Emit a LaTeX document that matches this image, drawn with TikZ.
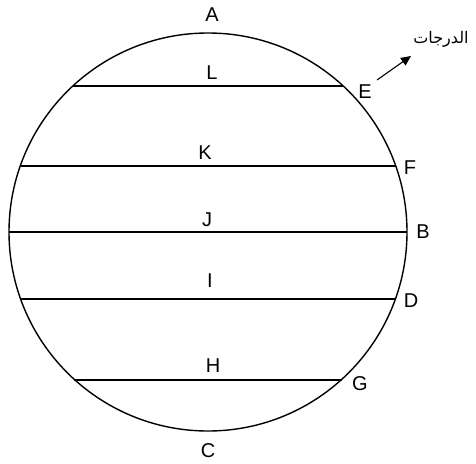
\documentclass[tikz,border=0pt]{standalone}
\usepackage{fontspec}
\setmainfont{Liberation Sans}
\newfontfamily\arabicfont[Script=Arabic]{DejaVu Sans}
\TeXXeTstate=1
\usetikzlibrary{arrows.meta}
\begin{document}
\begin{tikzpicture}[x=1pt,y=-1pt,
  lbl/.style={font=\fontsize{20}{20}\selectfont, inner sep=0pt, text=black},
  chord/.style={line width=1.1pt},
  rim/.style={line width=1.4pt}]
\useasboundingbox (0,0) rectangle (476,463);
\coordinate (O) at (208,232);
\draw[rim] (O) circle[radius=199];
% chord end points
\coordinate (l1) at (73,86);  \coordinate (l2) at (343,86);
\coordinate (k1) at (21,166); \coordinate (k2) at (396,166);
\coordinate (j1) at (9,232);  \coordinate (j2) at (407,232);
\coordinate (i1) at (21,299); \coordinate (i2) at (396,299);
\coordinate (h1) at (74,380); \coordinate (h2) at (342,380);
\draw[chord] (l1) -- (l2);
\draw[chord] (k1) -- (k2);
\draw[chord] (j1) -- (j2);
\draw[chord] (i1) -- (i2);
\draw[chord] (h1) -- (h2);
% labels
\node[lbl] (A) at (212,15) {A};
\node[lbl] (L) at (212,73) {L};
\node[lbl] (E) at (365,92) {E};
\node[lbl] (K) at (205,153) {K};
\node[lbl] (F) at (410,168) {F};
\node[lbl] (J) at (207,220) {J};
\node[lbl] (B) at (423,232) {B};
\node[lbl] (I) at (210,281) {I};
\node[lbl] (D) at (411,301) {D};
\node[lbl] (H) at (213,366) {H};
\node[lbl] (G) at (360,384) {G};
\node[lbl] (C) at (208,451) {C};
\node[inner sep=0pt, font=\arabicfont\fontsize{16}{16}\selectfont] (deg) at (441,39) {\beginR الدرجات\endR};
\coordinate (a1) at (377,80);
\coordinate (a2) at (411,56);
\draw[line width=1.1pt, -{Triangle[length=10pt,width=9pt]}] (a1) -- (a2);
\end{tikzpicture}
\end{document}
